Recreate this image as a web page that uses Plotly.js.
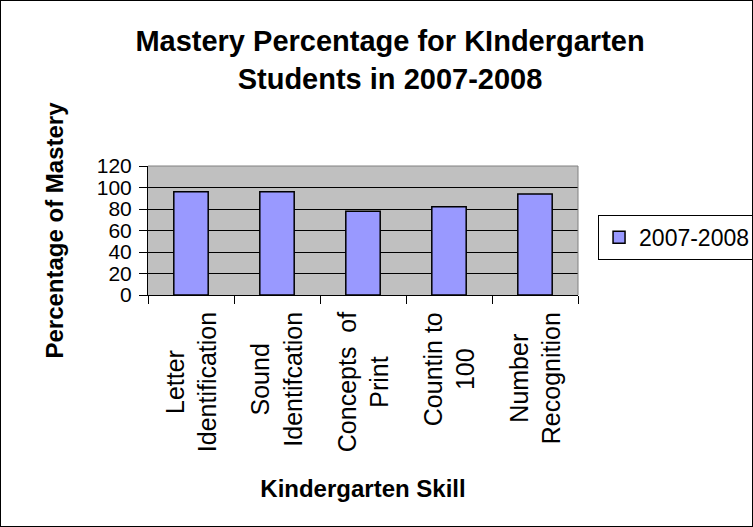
<!DOCTYPE html>
<html>
<head>
<meta charset="utf-8">
<script src="https://cdn.plot.ly/plotly-3.0.1.min.js"></script>
<style>
  html, body { margin: 0; padding: 0; background: #fff; }
  #chart { width: 751px; height: 525px; border: 1px solid #000; }
</style>
</head>
<body>
<div id="chart"></div>
<script>
// ---- data ----
const categories = ["Letter Identification", "Sound Identifcation", "Concepts of Print", "Countin to 100", "Number Recognition"];
const categoryLabels = ["Letter<br>Identification", "Sound<br>Identifcation", "Concepts\u00a0 of<br>Print", "Countin to<br>100", "Number<br>Recognition"];
const seriesName = "2007-2008";
const mastery = [96, 96, 78, 82, 94];
const yTicks = [0, 20, 40, 60, 80, 100, 120];

const chartTitle = "Mastery Percentage for KIndergarten<br>Students in 2007-2008";
const xTitle = "Kindergarten Skill";
const yTitle = "Percentage of Mastery";

const FONT = "Arial, 'Liberation Sans', sans-serif";

const trace = {
  type: "bar",
  x: categories,
  y: mastery,
  name: seriesName,
  showlegend: true,
  marker: { color: "#9999FF", line: { color: "#000000", width: 1.5 } }
};

const annotations = categories.map((c, i) => ({
  x: c, xref: "x",
  y: -0.118, yref: "paper",
  yanchor: "top", xanchor: "center",
  text: categoryLabels[i],
  textangle: -90,
  align: "center",
  showarrow: false,
  font: { family: FONT, size: 25, color: "#000" }
}));

const layout = {
  width: 751, height: 525,
  paper_bgcolor: "#ffffff",
  plot_bgcolor: "#C0C0C0",
  margin: { l: 147, r: 174, t: 165, b: 231 },
  font: { family: FONT, color: "#000" },
  title: {
    text: chartTitle,
    font: { family: FONT, size: 29, weight: "bold", color: "#000" },
    x: 0.518, xref: "container", xanchor: "center",
    y: 0.904, yref: "container", yanchor: "top",
    pad: { t: 0, b: 0, l: 0, r: 0 }
  },
  bargap: 0.6,
  xaxis: {
    type: "category",
    showline: true, linecolor: "#000", linewidth: 1,
    ticks: "outside", tickson: "boundaries", ticklen: 8, tickcolor: "#000", tickwidth: 1,
    showgrid: false, showticklabels: false,
    title: { text: xTitle, font: { family: FONT, size: 24, weight: "bold", color: "#000" }, standoff: 185 },
    automargin: false
  },
  yaxis: {
    range: [0, 120],
    tickvals: yTicks,
    ticktext: yTicks.map(String),
    showline: true, linecolor: "#000", linewidth: 1,
    ticks: "outside", ticklen: 8, tickcolor: "#000", tickwidth: 1,
    ticklabelstandoff: 3,
    showgrid: true, gridcolor: "#000", gridwidth: 1,
    zeroline: false,
    tickfont: { family: FONT, size: 21, color: "#000" },
    title: { text: yTitle, font: { family: FONT, size: 24, weight: "bold", color: "#000" }, standoff: 26 },
    automargin: false
  },
  legend: {
    xref: "container", x: 0.795, xanchor: "left",
    yref: "paper", y: 0.448, yanchor: "middle",
    bgcolor: "#ffffff", bordercolor: "#000", borderwidth: 1,
    font: { family: FONT, size: 23, color: "#000" }
  },
  shapes: [
    { type: "line", xref: "paper", yref: "paper", x0: 0, x1: 1, y0: 1, y1: 1, line: { color: "#808080", width: 1 }, layer: "above" },
    { type: "line", xref: "paper", yref: "paper", x0: 1, x1: 1, y0: 0, y1: 1, line: { color: "#808080", width: 1 }, layer: "above" }
  ],
  annotations: annotations
};

Plotly.newPlot("chart", [trace], layout, { staticPlot: true, displayModeBar: false });
</script>
</body>
</html>
